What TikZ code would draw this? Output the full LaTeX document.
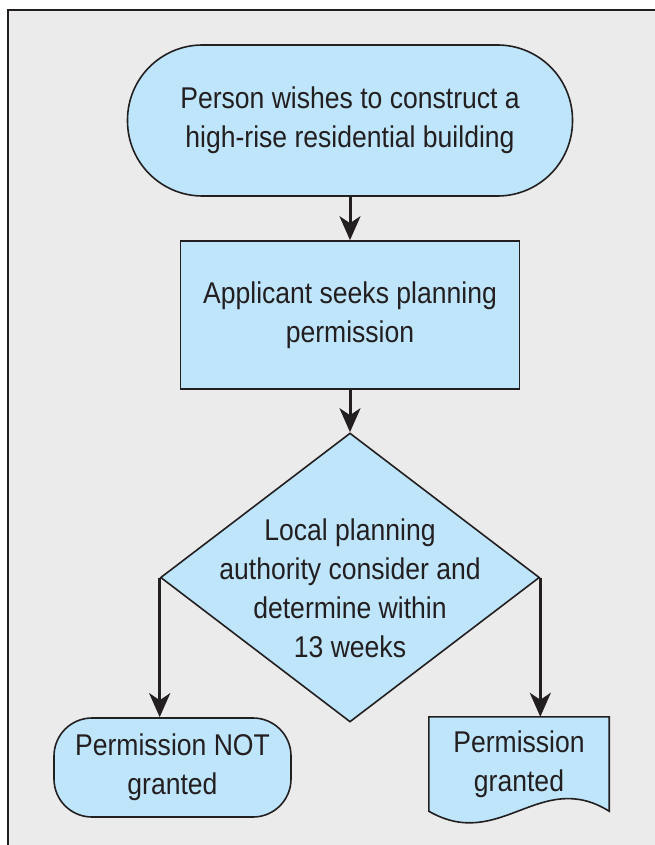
\documentclass[tikz,border=0pt]{standalone}
\usepackage{fontspec}
\setmainfont{Liberation Sans}[FakeStretch=0.885]
\usetikzlibrary{arrows.meta,shapes.geometric,backgrounds}
\definecolor{panel}{HTML}{EBEBEB}
\definecolor{boxblue}{HTML}{BEE5F9}
\definecolor{ink}{HTML}{231F20}
\tikzstyle{box}=[draw=ink,fill=boxblue,line width=1.6pt,text=ink,align=center,font=\fontsize{30}{39}\selectfont]
\tikzstyle{terminal}=[box,rectangle,minimum width=445pt,minimum height=151pt,rounded corners=75pt]
\tikzstyle{process}=[box,rectangle,minimum width=339pt,minimum height=148pt]
\tikzstyle{decision}=[box,diamond,minimum width=379pt,minimum height=289pt,inner sep=0pt]
\tikzstyle{stopbox}=[box,rectangle,minimum width=237pt,minimum height=99pt,rounded corners=38pt]
\tikzstyle{label}=[text=ink,align=center,font=\fontsize{30}{39}\selectfont]
\tikzstyle{flow}=[draw=ink,line width=3pt,-{Stealth[length=24pt,width=21pt,inset=7pt]}]

\begin{document}
\begin{tikzpicture}[x=1pt,y=-1pt]
        \useasboundingbox (0,0) rectangle (654,845);
        \node[terminal] (start) at (350,120.5) {Person wishes to construct a\\high-rise residential building};
        \node[process] (seek) at (350,315) {Applicant seeks planning\\permission};
        \node[decision] (decide) at (350,577.5) {};
        \node[label] (decidetext) at (350,588) {Local planning\\authority consider and\\determine within\\13 weeks};
        \node[stopbox] (refused) at (172.5,767.5) {Permission NOT\\granted};
        \node[label,minimum width=180pt,minimum height=94pt,inner sep=0pt] (granted) at (519,764) {Permission\\granted};
        \draw[flow] (start.south) to (seek.north);
        \draw[flow] (seek.south) to (decide.north);
        \draw[flow] (decide.west) to (decide.west |- refused.north);
        \draw[flow] (decide.east) to (decide.east |- granted.north);
        \begin{scope}[on background layer]
          \draw[line width=2pt,draw=ink,fill=panel] (8,10) rectangle (680,870);
          %\draw[box] (granted.north west) rectangle (granted.south east);
          \draw[box] (granted.south west) -- (granted.north west) -- (granted.north east) -- (granted.south east)
            .. controls +(-69,-43) and +(71,41) .. (granted.south west) -- cycle;
        \end{scope}
      \end{tikzpicture}
\end{document}
